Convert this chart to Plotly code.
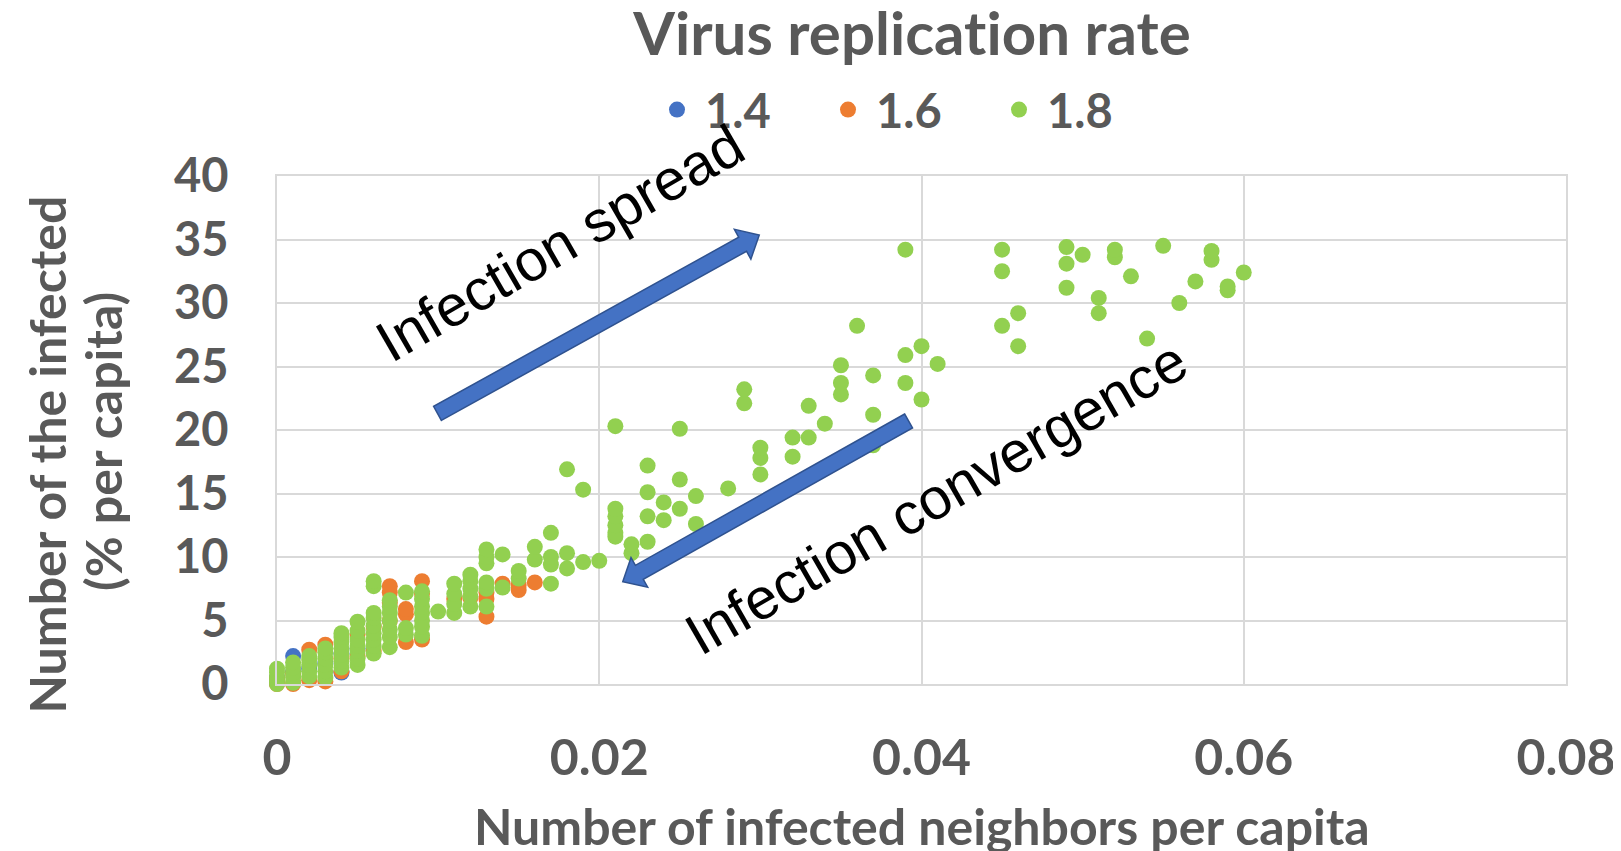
import math
import plotly.graph_objects as go

# ---------------- data ----------------
series_names = ["1.4", "1.6", "1.8"]
series_colors = ["#4472C4", "#ED7D31", "#92D050"]

blue_cols = [0.000, 0.001, 0.002, 0.003, 0.004, 0.005]
blue_vals = [[0.1, 0.5], [2.2, 1.0], [1.2], [1.6], [0.9, 2.4], [2.8]]

orange_cols = [0.000, 0.001, 0.002, 0.003, 0.004, 0.005, 0.006, 0.007, 0.008,
               0.009, 0.011, 0.012, 0.013, 0.014, 0.015, 0.016]
orange_vals = [[0.0, 0.4], [0.0, 0.8], [0.3, 2.7], [0.2, 3.1], [1.0, 2.0],
               [3.9, 2.2], [2.6, 4.5], [5.0, 6.4, 7.2, 7.7], [3.3, 5.5, 5.9],
               [3.5, 7.1, 8.1], [6.7], [6.8], [5.3, 6.7, 7.2], [7.9],
               [7.4, 7.8], [8.0]]

green_cols = [0.000, 0.001, 0.002, 0.003, 0.004, 0.005, 0.006, 0.007, 0.008,
              0.009, 0.010, 0.011, 0.012, 0.013, 0.014, 0.015, 0.016, 0.017,
              0.018, 0.019, 0.020, 0.021, 0.022, 0.023, 0.024, 0.025, 0.026,
              0.028, 0.029, 0.030, 0.032, 0.033, 0.034, 0.035, 0.036, 0.037,
              0.039, 0.040, 0.041, 0.045, 0.046, 0.049, 0.050, 0.051, 0.052,
              0.053, 0.054, 0.055, 0.056, 0.057, 0.058, 0.059, 0.060]
green_vals = [
    [0.0, 0.3, 0.6, 0.9, 1.2],
    [0.1, 0.5, 0.9, 1.3, 1.7],
    [0.6, 1.0, 1.5, 1.9, 2.2],
    [0.5, 1.0, 1.5, 2.0, 2.5, 2.8],
    [1.3, 1.8, 2.3, 2.8, 3.3, 3.7, 4.0],
    [1.5, 2.0, 2.6, 3.0, 3.5, 4.2, 4.9],
    [2.4, 3.0, 3.5, 4.0, 4.6, 5.2, 5.6, 7.7, 8.1],
    [2.9, 3.7, 4.3, 5.0, 5.6, 6.1, 6.6],
    [3.9, 4.4, 7.2],
    [3.8, 4.5, 5.0, 5.6, 6.1, 6.7, 7.3],
    [5.7],
    [5.6, 6.3, 7.1, 7.9],
    [6.1, 6.9, 7.5, 8.1, 8.6],
    [6.1, 7.5, 8.0, 9.5, 10.0, 10.6],
    [7.6, 10.2],
    [8.3, 8.9],
    [9.8, 10.8],
    [7.9, 9.4, 10.0, 11.9],
    [9.1, 10.3, 16.9],
    [9.6, 15.3],
    [9.7],
    [11.6, 11.9, 12.5, 13.2, 13.8, 20.3],
    [10.3, 11.0],
    [11.2, 13.2, 15.1, 17.2],
    [12.9, 14.3],
    [13.8, 16.1, 20.1],
    [12.6, 14.8],
    [15.4],
    [22.1, 23.2],
    [16.5, 17.8, 18.6],
    [17.9, 19.4],
    [19.4, 21.9],
    [20.5],
    [22.8, 23.7, 25.1],
    [28.2],
    [18.8, 21.2, 24.3],
    [23.7, 25.9, 34.2],
    [22.4, 26.6],
    [25.2],
    [28.2, 32.5, 34.2],
    [26.6, 29.2],
    [31.2, 33.1, 34.4],
    [33.8],
    [29.2, 30.4],
    [33.6, 34.2],
    [32.1],
    [27.2],
    [34.5],
    [30.0],
    [31.7],
    [33.4, 34.1],
    [31.0, 31.3],
    [32.4],
]

x_tick_vals = [0, 0.02, 0.04, 0.06, 0.08]
x_tick_text = ["0", "0.02", "0.04", "0.06", "0.08"]
y_tick_vals = [0, 5, 10, 15, 20, 25, 30, 35, 40]

# ZWNJ keeps Lato from forming the "ti" ligature
title_text = "Virus replicat\u200cion rate"
x_title = "Number of infected neighbors per capita"
y_title_lines = ["Number of the infected", "(% per capita)"]

# arrows (data coords: tail -> tip) and their labels
arrow_spread = ((0.00996, 21.31), (0.02993, 35.35))
arrow_conv = ((0.0392, 20.71), (0.02146, 8.06))
label_spread = ("Infection spread", 0.01756, 34.8)
label_conv = ("Infection convergence", 0.04084, 14.72)

# ---------------- layout geometry ----------------
# page body has an 8px margin, so the figure is drawn 8px right/down
W, H = 1613, 843
M_L, M_R, M_T, M_B = 269, 55, 168, 167
X_RANGE = [0, 0.08]
Y_RANGE = [0, 40]
PW = W - M_L - M_R
PH = H - M_T - M_B

GREY = "#595959"
FONT = "Lato"


def flatten(cols, vals):
    xs, ys = [], []
    for c, vs in zip(cols, vals):
        for v in vs:
            xs.append(c)
            ys.append(v)
    return xs, ys


def to_px(x, y):
    px = M_L + (x - X_RANGE[0]) / (X_RANGE[1] - X_RANGE[0]) * PW
    py = M_T + (Y_RANGE[1] - y) / (Y_RANGE[1] - Y_RANGE[0]) * PH
    return px, py


def to_data(px, py):
    x = X_RANGE[0] + (px - M_L) / PW * (X_RANGE[1] - X_RANGE[0])
    y = Y_RANGE[1] - (py - M_T) / PH * (Y_RANGE[1] - Y_RANGE[0])
    return x, y


def block_arrow_path(tail, tip, half_w=8, head_hw=17, head_len=19):
    tx, ty = to_px(*tail)
    hx, hy = to_px(*tip)
    dx, dy = hx - tx, hy - ty
    L = math.hypot(dx, dy)
    ux, uy = dx / L, dy / L
    nx, ny = -uy, ux
    bx, by = hx - ux * head_len, hy - uy * head_len
    pts = [
        (tx + nx * half_w, ty + ny * half_w),
        (bx + nx * half_w, by + ny * half_w),
        (bx + nx * head_hw, by + ny * head_hw),
        (hx, hy),
        (bx - nx * head_hw, by - ny * head_hw),
        (bx - nx * half_w, by - ny * half_w),
        (tx - nx * half_w, ty - ny * half_w),
    ]
    d = []
    for i, (px, py) in enumerate(pts):
        x, y = to_data(px, py)
        d.append(("M" if i == 0 else "L") + f"{x:.7f},{y:.5f}")
    return " ".join(d) + " Z"


fig = go.Figure()
for name, color, cols, vals in zip(series_names, series_colors,
                                   [blue_cols, orange_cols, green_cols],
                                   [blue_vals, orange_vals, green_vals]):
    xs, ys = flatten(cols, vals)
    fig.add_trace(go.Scatter(
        x=xs, y=ys, mode="markers", name=name,
        marker=dict(color=color, size=16, line=dict(width=0)),
        cliponaxis=False,
    ))

for tail, tip in [arrow_spread, arrow_conv]:
    fig.add_shape(type="path", xref="x", yref="y",
                  path=block_arrow_path(tail, tip),
                  fillcolor="#4472C4", line=dict(color="#2F528F", width=1.5),
                  layer="above")

for text, ax, ay in [label_spread, label_conv]:
    fig.add_annotation(x=ax, y=ay, xref="x", yref="y", text=text,
                       showarrow=False, textangle=-30,
                       font=dict(family="Liberation Sans", size=58, color="black"),
                       xanchor="center", yanchor="middle")

axis_title_font = dict(family=FONT, size=50, color=GREY, weight="bold")
fig.add_annotation(x=0.5, y=-0.28, xref="paper", yref="paper", text=x_title,
                   showarrow=False, xanchor="center", yanchor="middle",
                   font=axis_title_font)
# two y-title lines, each rotated (screen px -> paper coords)
for line, sx, sy in zip(y_title_lines, [46.5, 103], [455, 442]):
    fx, fy = sx - 8, sy - 8
    fig.add_annotation(x=(fx - M_L) / PW, y=(M_T + PH - fy) / PH,
                       xref="paper", yref="paper", text=line,
                       showarrow=False, textangle=-90,
                       xanchor="center", yanchor="middle",
                       font=axis_title_font)

fig.update_layout(
    width=W, height=H,
    margin=dict(l=M_L, r=M_R, t=M_T, b=M_B, autoexpand=False),
    paper_bgcolor="white", plot_bgcolor="white",
    title=dict(text=title_text, x=904 / W, xanchor="center",
               y=1 - 26 / H, yanchor="middle",
               font=dict(family=FONT, size=60, color=GREY, weight="bold")),
    legend=dict(orientation="h", x=(641 - M_L) / PW, xanchor="left",
                y=(M_T + PH - 102) / PH, yanchor="middle",
                font=dict(family=FONT, size=47, color=GREY, weight="bold"),
                bgcolor="rgba(0,0,0,0)", itemwidth=46,
                entrywidth=110, entrywidthmode="pixels"),
    showlegend=True,
    xaxis=dict(range=X_RANGE, tickvals=x_tick_vals, ticktext=x_tick_text,
               showgrid=True, gridcolor="#D9D9D9", gridwidth=2,
               zeroline=False, showline=True, linecolor="#D9D9D9",
               linewidth=2, mirror=True, ticks="", ticklabelstandoff=29,
               tickfont=dict(family=FONT, size=50, color=GREY, weight="bold")),
    yaxis=dict(range=Y_RANGE, tickvals=y_tick_vals,
               showgrid=True, gridcolor="#D9D9D9", gridwidth=2,
               zeroline=False, showline=True, linecolor="#D9D9D9",
               linewidth=2, mirror=True, ticks="", ticklabelstandoff=37,
               tickfont=dict(family=FONT, size=47, color=GREY, weight="bold")),
)

fig.write_html("out.html")
